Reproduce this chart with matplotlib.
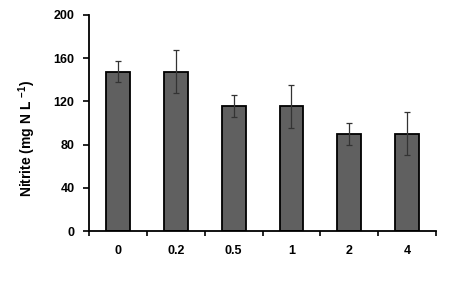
import matplotlib
matplotlib.use("Agg")
import matplotlib.pyplot as plt
import numpy as np

categories = ["0", "0.2", "0.5", "1", "2", "4"]
values = [147.5, 147.5, 115.5, 115.5, 90, 90]
errors = [10, 20, 10, 20, 10, 20]
yticks = [0, 40, 80, 120, 160, 200]

plt.rcParams['font.family'] = ['Liberation Sans', 'DejaVu Sans']
plt.rcParams['font.weight'] = 'bold'
plt.rcParams['mathtext.fontset'] = 'custom'
plt.rcParams['mathtext.rm'] = 'Liberation Sans:bold'
plt.rcParams['mathtext.bf'] = 'Liberation Sans:bold'

fig = plt.figure(figsize=(4.5, 3.05), dpi=100)
ax = fig.add_axes([0.198, 0.2426, 0.771, 0.7084])

x = np.arange(len(categories))
ax.bar(x, values, width=0.41, color='#606060', edgecolor='black', linewidth=1.3, zorder=2)
ax.errorbar(x, values, yerr=errors, fmt='none', ecolor='#333333', elinewidth=0.9,
            capsize=2, capthick=0.9, zorder=3)

ax.set_xlim(-0.5, len(categories) - 0.5)
ax.set_ylim(0, 200)
ax.set_yticks(yticks)
ax.set_yticklabels([str(t) for t in yticks])
ax.set_xticks(np.arange(-0.5, len(categories), 1.0))
ax.set_xticklabels([])
ax.set_xticks(x, minor=True)
ax.set_xticklabels(categories, minor=True)
ax.tick_params(axis='x', which='minor', length=0, pad=10, labelsize=9)
ax.tick_params(axis='x', which='major', direction='out', length=3.5, width=1.2)
ax.tick_params(axis='y', direction='out', length=4.5, width=1.2, labelsize=9, pad=6)

for s in ['top', 'right']:
    ax.spines[s].set_visible(False)
for s in ['left', 'bottom']:
    ax.spines[s].set_linewidth(1.3)

ax.set_ylabel('Nitrite (mg N L $^{-1}$)', fontsize=10, fontweight='bold')
ax.yaxis.set_label_coords(-0.147, 0.43)

fig.savefig('out.png', dpi=100)
